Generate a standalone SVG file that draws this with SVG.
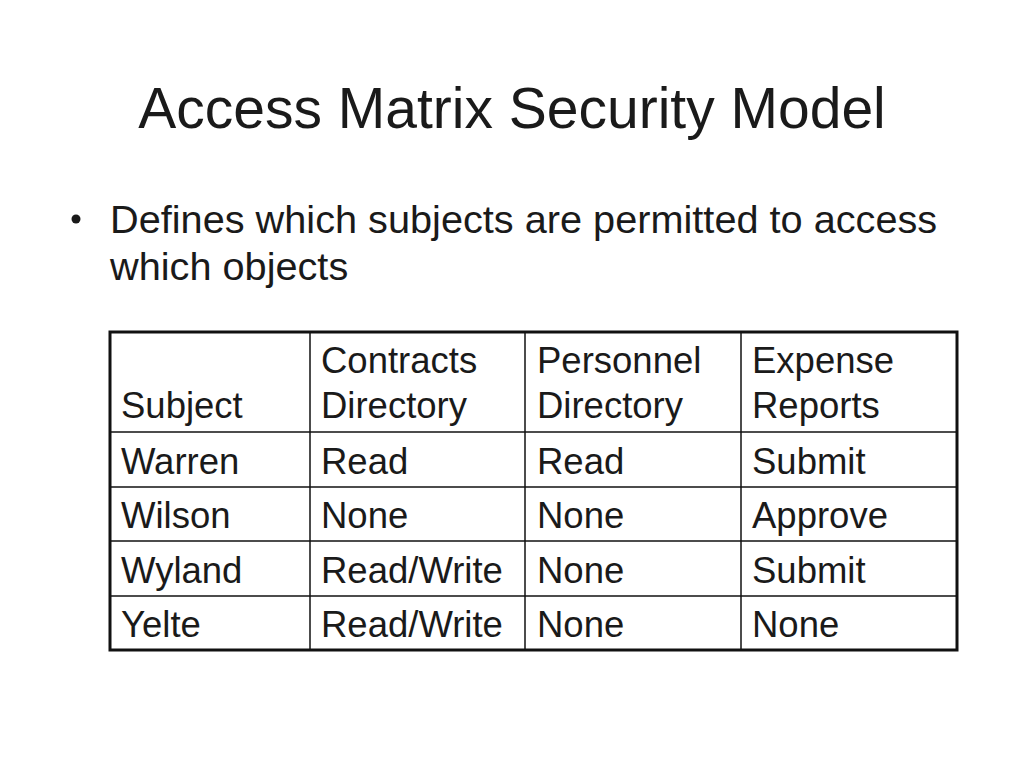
<svg xmlns="http://www.w3.org/2000/svg" width="1024" height="768" viewBox="0 0 1024 768">
<style>
text{font-family:"Liberation Sans",Arial,sans-serif;fill:#1a1a1a}
.title{font-size:57px}
.body{font-size:39.7px}
.cell{font-size:36.5px}
.grid{stroke:#111;stroke-width:1.5;fill:none}
.outer{stroke:#111;stroke-width:3;fill:none}
</style>
<rect width="1024" height="768" fill="#fff"/>
<g id="title"><text class="title" x="512" y="128" text-anchor="middle">Access Matrix Security Model</text></g>
<g id="bullet">
<circle cx="76" cy="219" r="4.5" fill="#1a1a1a"/>
<text class="body" x="110" y="233">Defines which subjects are permitted to access</text>
<text class="body" x="110" y="280">which objects</text>
</g>
<g id="table">
<g id="gridlines">
<line class="grid" x1="310" y1="332" x2="310" y2="650"/>
<line class="grid" x1="525" y1="332" x2="525" y2="650"/>
<line class="grid" x1="741" y1="332" x2="741" y2="650"/>
<line class="grid" x1="110" y1="432" x2="957" y2="432"/>
<line class="grid" x1="110" y1="487" x2="957" y2="487"/>
<line class="grid" x1="110" y1="541" x2="957" y2="541"/>
<line class="grid" x1="110" y1="596" x2="957" y2="596"/>
<rect class="outer" x="110" y="332" width="847" height="318"/>
</g>
<g id="header">
<text class="cell" x="121" y="418">Subject</text>
<text class="cell" x="321" y="373">Contracts</text>
<text class="cell" x="321" y="418">Directory</text>
<text class="cell" x="537" y="373">Personnel</text>
<text class="cell" x="537" y="418">Directory</text>
<text class="cell" x="752" y="373">Expense</text>
<text class="cell" x="752" y="418">Reports</text>
</g>
<g id="row-warren">
<text class="cell" x="121" y="474">Warren</text>
<text class="cell" x="321" y="474">Read</text>
<text class="cell" x="537" y="474">Read</text>
<text class="cell" x="752" y="474">Submit</text>
</g>
<g id="row-wilson">
<text class="cell" x="121" y="528">Wilson</text>
<text class="cell" x="321" y="528">None</text>
<text class="cell" x="537" y="528">None</text>
<text class="cell" x="752" y="528">Approve</text>
</g>
<g id="row-wyland">
<text class="cell" x="121" y="583">Wyland</text>
<text class="cell" x="321" y="583">Read/Write</text>
<text class="cell" x="537" y="583">None</text>
<text class="cell" x="752" y="583">Submit</text>
</g>
<g id="row-yelte">
<text class="cell" x="121" y="637">Yelte</text>
<text class="cell" x="321" y="637">Read/Write</text>
<text class="cell" x="537" y="637">None</text>
<text class="cell" x="752" y="637">None</text>
</g>
</g>
</svg>
